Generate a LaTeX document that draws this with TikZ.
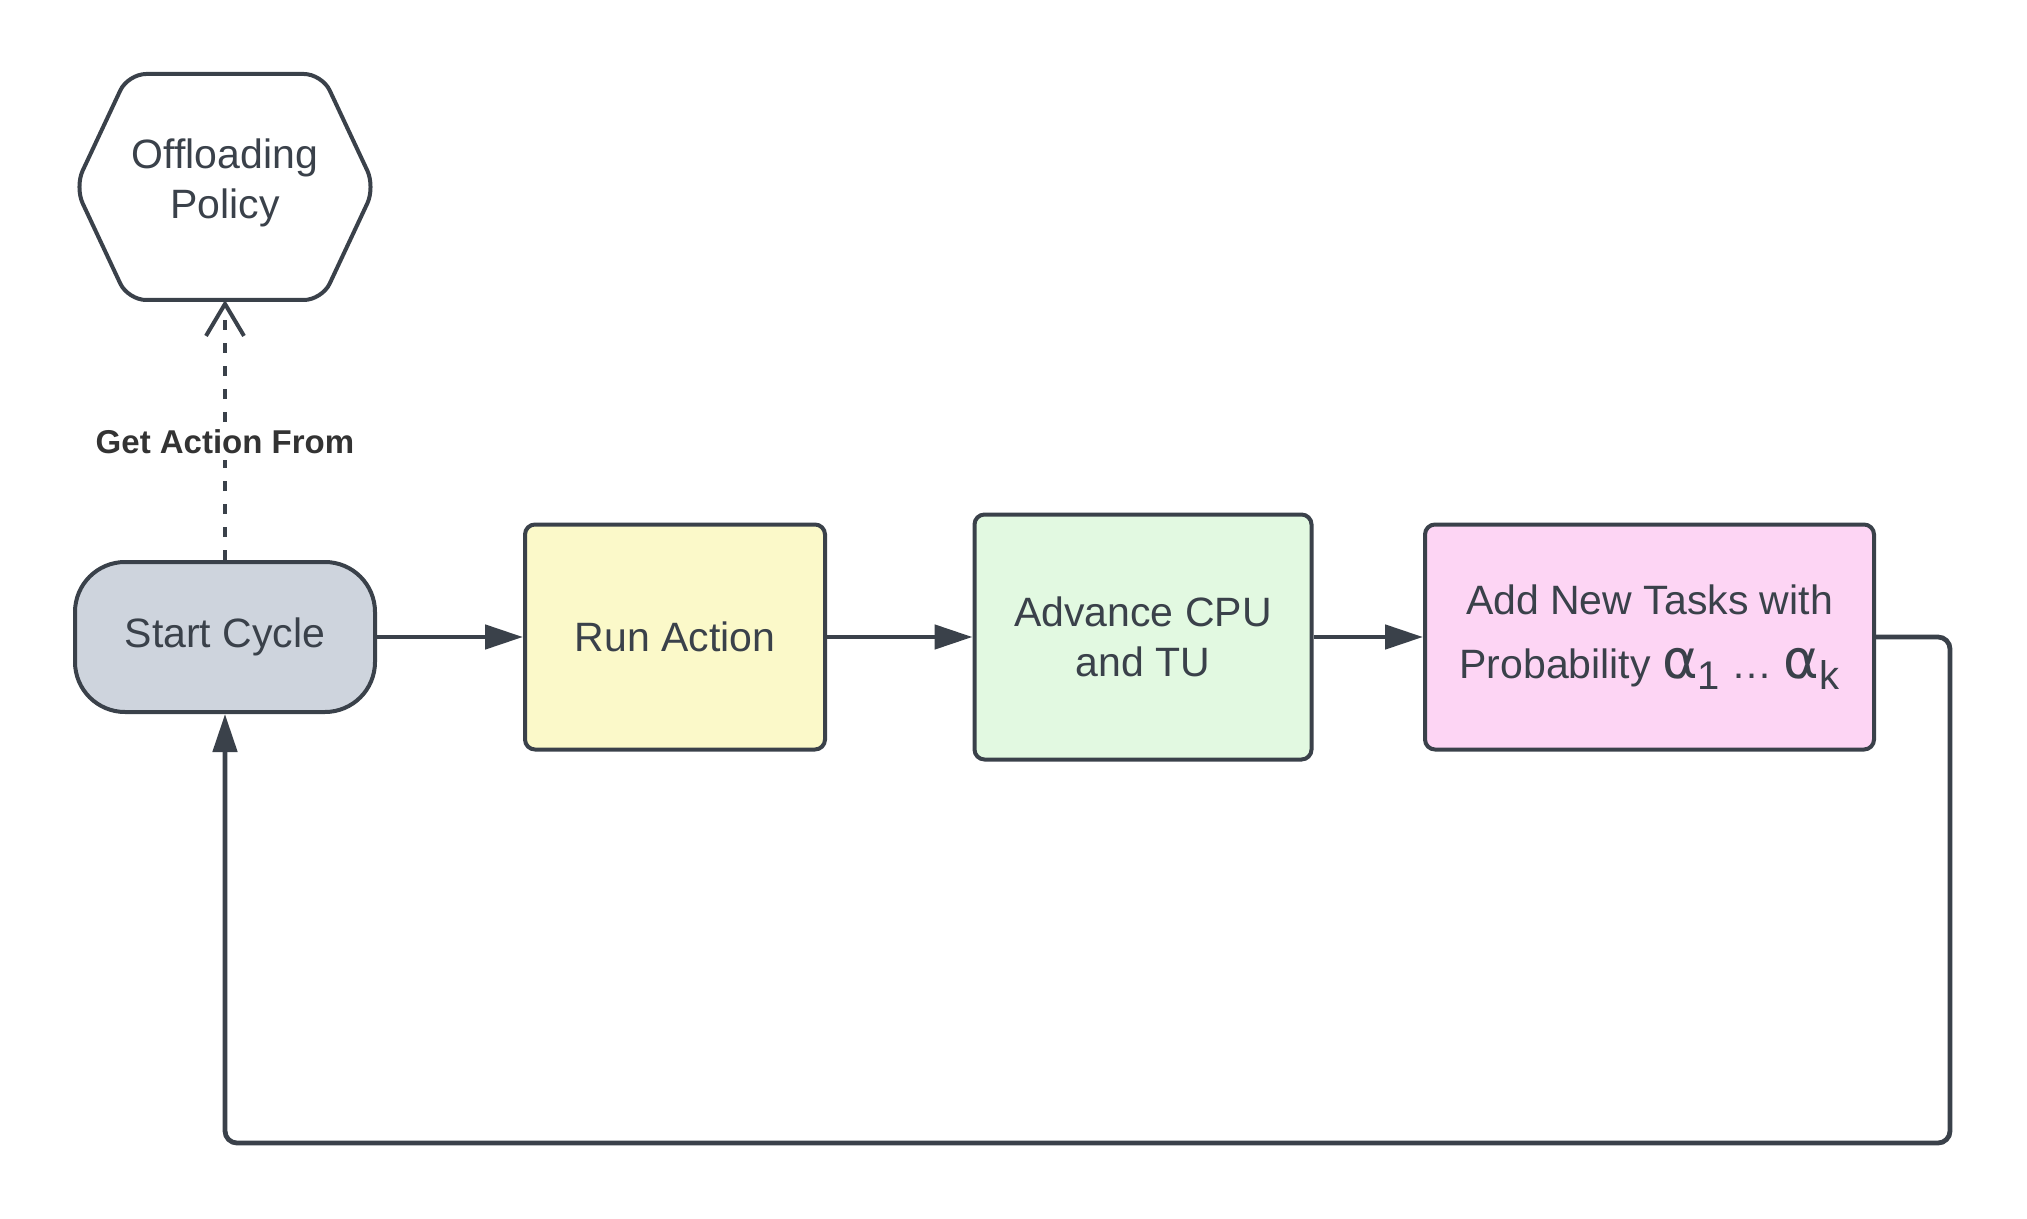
\documentclass[tikz,border=0pt]{standalone}
\usepackage{fontspec}
\setmainfont{Liberation Sans}
\newfontfamily\alphafont{DejaVu Sans}
\usetikzlibrary{arrows.meta}
\definecolor{ink}{HTML}{3A414A}
\definecolor{startfill}{HTML}{CED4DD}
\definecolor{runfill}{HTML}{FBF9C9}
\definecolor{advfill}{HTML}{E2F9E1}
\definecolor{addfill}{HTML}{FDD5F4}
\definecolor{lbl}{HTML}{333333}
\newcommand{\alp}[1]{{\alphafont\fontsize{27pt}{27pt}\selectfont α}\raisebox{-0.28em}{\fontsize{20pt}{20pt}\selectfont #1}}
\begin{document}
\begin{tikzpicture}[x=0.5pt,y=-0.5pt,
  box/.style={draw=ink, line width=2pt, rounded corners=5pt, text=ink, align=center,
    font=\fontsize{20.5pt}{25pt}\selectfont, inner sep=0pt},
  flow/.style={draw=ink, line width=2.4pt, -{Triangle[length=19pt,width=12pt]}},
  dashflow/.style={draw=ink, line width=2.2pt, dash pattern=on 5pt off 6.5pt,
    -{Straight Barb[length=16pt,width=19pt,line width=2pt]}},
  lab/.style={fill=white, text=lbl, font=\fontsize{16.5pt}{19pt}\selectfont\bfseries, inner sep=3pt}
]
\useasboundingbox (0,0) rectangle (2027,1219);

% hexagon
\node[text=ink, align=center, font=\fontsize{20.5pt}{25pt}\selectfont,
  minimum width=150pt, minimum height=113pt, inner sep=0pt] (hex) at (225,183) {Offloading\\Policy};
\draw[ink, line width=2pt, rounded corners=9pt]
  (128,74) -- (322,74) -- (375,187) -- (322,300) -- (128,300) -- (75,187) -- cycle;
\coordinate (hexb) at (225,300);

\node[box, fill=startfill, rounded corners=25pt, minimum width=150pt, minimum height=75pt] (start) at (225,637) {Start Cycle};
\node[box, fill=runfill, minimum width=150pt, minimum height=112.5pt] (run) at (675,637) {Run Action};
\node[box, fill=advfill, minimum width=168.5pt, minimum height=122.5pt] (adv) at (1143,637) {Advance CPU\\and TU};
\node[box, fill=addfill, minimum width=224.5pt, minimum height=112.5pt,
  font=\fontsize{20.5pt}{32pt}\selectfont] (add) at (1649.5,637) {Add New Tasks with\\Probability \alp{1} … \alp{k}};

\draw[dashflow] (start.north) -- (hexb) node[lab, pos=0.455] {Get Action From};

\draw[flow] (start.east) -- (run.west);
\draw[flow] (run.east) -- (adv.west);
\draw[flow] (adv.east) -- (add.west);

\coordinate (c1) at (1950,637);
\coordinate (c2) at (1950,1143);
\coordinate (c3) at (225,1143);
\draw[flow, rounded corners=6pt] (add.east) -- (c1) -- (c2) -- (c3) -- (start.south);
\end{tikzpicture}
\end{document}
